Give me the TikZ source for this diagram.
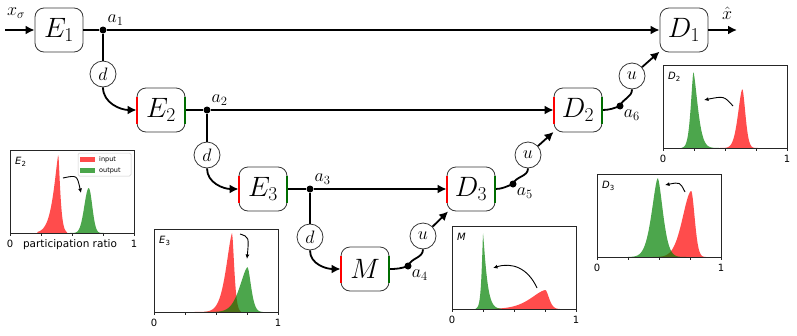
\RequirePackage{fix-cm}
\documentclass[tikz,border=0pt]{standalone}
\usepackage{fontspec}
\newfontfamily\plotfont{DejaVu Sans}
\usetikzlibrary{arrows.meta,calc}
\definecolor{InClr}{RGB}{255,0,0}
\definecolor{OutClr}{RGB}{0,128,0}
\definecolor{EdgeClr}{RGB}{55,55,55}

\begin{document}
\begin{tikzpicture}[x=1pt,y=-1pt,
  declare function={bump(\bq,\bc,\bh,\bl,\br,\bp)=\bh*exp(-pow((abs(\bq-\bc)+0.0001)/(\bq<\bc?\bl:\br),\bp));},
  block/.style={draw=EdgeClr,line width=.8pt,rounded corners=9pt,minimum width=48pt,minimum height=44pt,inner sep=0pt,fill=white,font=\fontsize{28}{28}\selectfont},
  ring/.style={circle,draw=EdgeClr,line width=.8pt,minimum size=26pt,inner sep=0pt,fill=white,font=\fontsize{18}{18}\selectfont},
  dot/.style={circle,fill=black,minimum size=7pt,inner sep=0pt},
  lbl/.style={font=\fontsize{18}{18}\selectfont,inner sep=1pt},
  wire/.style={line width=1.8pt},
  arr/.style={wire,-{Latex[length=9pt,width=9pt]}},
  inmark/.style={InClr,line width=2pt},
  outmark/.style={OutClr!85!black,line width=2pt},
  infill/.style={fill=InClr,fill opacity=.7},
  outfill/.style={fill=OutClr,fill opacity=.7},
  frame/.style={draw=black!85,line width=.7pt},
  tick/.style={font=\plotfont\fontsize{10}{10}\selectfont,inner sep=0pt},
  parr/.style={line width=.9pt,-{Latex[length=4.5pt,width=4pt]}}]

\useasboundingbox (0,0) rectangle (797,335);

\node[block] (E1) at (59,30) {$E_1$};
\node[block] (E2) at (161,110) {$E_2$};
\node[block] (E3) at (263,189) {$E_3$};
\node[block] (M) at (365,269) {$M$};
\node[block] (D3) at (471,189) {$D_3$};
\node[block] (D2) at (578,110) {$D_2$};
\node[block] (D1) at (684,30) {$D_1$};

\node[ring] (d1) at (103,74) {$d$};
\node[ring] (d2) at (207,155) {$d$};
\node[ring] (d3) at (310,237) {$d$};
\node[ring] (u1) at (423,236) {$u$};
\node[ring] (u2) at (528,155) {$u$};
\node[ring] (u3) at (632,76) {$u$};

\node[dot,label={[lbl,label distance=1pt]above right:$a_1$}] (a1) at (103,30) {};
\node[dot,label={[lbl,label distance=1pt]above right:$a_2$}] (a2) at (207,110) {};
\node[dot,label={[lbl,label distance=1pt]above right:$a_3$}] (a3) at (310,189) {};
\node[dot,label={[lbl]below right:$a_4$}] (a4) at (408,266) {};
\node[dot,label={[lbl]below right:$a_5$}] (a5) at (513,184) {};
\node[dot,label={[lbl]below right:$a_6$}] (a6) at (620,106) {};

\coordinate (xin) at (5,30);
\coordinate (xout) at (737,30);
\node[lbl] (xs) at (16,13) {$x_\sigma$};
\node[lbl] (xh) at (727,13) {$\hat{x}$};

\draw[arr] (xin) -- (E1);
\draw[wire] (E1) -- (a1);
\draw[arr] (a1) -- (D1);
\draw[arr] (D1) -- (xout);
\draw[wire] (a1) -- (d1);
\draw[arr] (d1.south) to[out=-90,in=180] (E2.west);
\draw[wire] (E2) -- (a2);
\draw[arr] (a2) -- (D2);
\draw[wire] (a2) -- (d2);
\draw[arr] (d2.south) to[out=-90,in=180] (E3.west);
\draw[wire] (E3) -- (a3);
\draw[arr] (a3) -- (D3);
\draw[wire] (a3) -- (d3);
\draw[arr] (d3.south) to[out=-90,in=180] (M.west);
\draw[wire] (M.east) to[out=0,in=200] (a4.center) to[out=70,in=-90] (u1.south);
\draw[arr] (u1) -- (D3);
\draw[wire] (D3.east) to[out=0,in=200] (a5.center) to[out=70,in=-90] (u2.south);
\draw[arr] (u2) -- (D2);
\draw[wire] (D2.east) to[out=0,in=200] (a6.center) to[out=70,in=-90] (u3.south);
\draw[arr] (u3) -- (D1);

\foreach \b in {E2,E3,M,D3,D2} {
  \draw[inmark] ($(\b.west)+(0,-13.5)$) -- ($(\b.west)+(0,13.5)$);
  \draw[outmark] ($(\b.east)+(0,-13.5)$) -- ($(\b.east)+(0,13.5)$);
}

\begin{scope}[xshift=10pt,yshift=-233pt,x=124pt,y=1pt]
\fill[infill] (0.22,0) -- plot[domain=0.22:0.46,samples=61] (\x,{bump(\x,0.39,79,0.055,0.022,1.3)}) -- (0.46,0) -- cycle;
\fill[outfill] (0.47,0) -- plot[domain=0.47:0.78,samples=61] (\x,{bump(\x,0.635,45,0.05,0.04,2)}) -- (0.78,0) -- cycle;
\end{scope}
\begin{scope}[xshift=154pt,yshift=-312pt,x=124pt,y=1pt]
\fill[infill] (0.3,0) -- plot[domain=0.3:0.7,samples=81] (\x,{bump(\x,0.63,79,0.07,0.025,1.5)}) -- (0.7,0) -- cycle;
\fill[outfill] (0.3,0) -- plot[domain=0.3:0.88,samples=81] (\x,{bump(\x,0.755,45,0.09,0.04,1.6)}) -- (0.88,0) -- cycle;
\end{scope}
\begin{scope}[xshift=452pt,yshift=-309pt,x=124pt,y=1pt]
\fill[infill] (0.35,0) -- plot[domain=0.35:0.87,samples=81] (\x,{bump(\x,0.755,19,0.17,0.04,1.6)}) -- (0.87,0) -- cycle;
\fill[outfill] (0.19,0) -- plot[domain=0.19:0.4,samples=81] (\x,{bump(\x,0.25,76,0.015,0.035,1.2)}) -- (0.4,0) -- cycle;
\end{scope}
\begin{scope}[xshift=663pt,yshift=-148pt,x=124pt,y=1pt]
\fill[infill] (0.45,0) -- plot[domain=0.45:0.77,samples=61] (\x,{bump(\x,0.64,59,0.05,0.035,1.7)}) -- (0.77,0) -- cycle;
\fill[outfill] (0.15,0) -- plot[domain=0.15:0.45,samples=61] (\x,{bump(\x,0.245,76,0.03,0.05,1.5)}) -- (0.45,0) -- cycle;
\end{scope}
\begin{scope}[xshift=597pt,yshift=-257pt,x=124pt,y=1pt]
\fill[infill] (0.45,0) -- plot[domain=0.45:0.88,samples=81] (\x,{bump(\x,0.76,66,0.1,0.04,1.8)}) -- (0.88,0) -- cycle;
\fill[outfill] (0.25,0) -- plot[domain=0.25:0.72,samples=81] (\x,{bump(\x,0.49,79,0.07,0.06,1.6)}) -- (0.72,0) -- cycle;
\end{scope}

\foreach \px/\py/\nl/\ns in {10/233/E/2, 154/312/E/3, 452/309/M/{}, 663/148/D/2, 597/257/D/3} {
  \draw[frame] (\px,\py) rectangle ++(124,-83);
  \foreach \t in {0,0.25,0.5,0.75,1} \draw[frame] (\px+124*\t,\py) -- ++(0,3);
  \node[tick] at (\px,\py+11) {0};
  \node[tick] at (\px+124,\py+11) {1};
  \node[tick,anchor=north west] at (\px+5,\py-76) {\itshape\nl\textsubscript{\upshape\ns}};
}

\node[tick,font=\plotfont\fontsize{10.5}{10.5}\selectfont] (pr) at (70,245) {participation ratio};
\draw[draw=black!20,fill=white,fill opacity=.8,rounded corners=1.5pt,line width=.5pt] (78,153) rectangle (131,176);
\fill[infill] (80,157) rectangle (95,162);
\fill[outfill] (80,168) rectangle (95,173);
\node[tick,anchor=west,font=\plotfont\fontsize{6.5}{6.5}\selectfont] at (99,159.5) {input};
\node[tick,anchor=west,font=\plotfont\fontsize{6.5}{6.5}\selectfont] at (99,170.5) {output};

\draw[parr] (63,178) .. controls (77,175) .. (81,193);
\draw[parr] (240,234) .. controls (249,237) .. (247,259);
\draw[parr] (537,288) .. controls (528,268) and (512,262) .. (493,268);
\draw[parr] (733,106) .. controls (724,96) .. (704,100);
\draw[parr] (685,192) .. controls (680,182) .. (665,185);

\end{tikzpicture}
\end{document}
